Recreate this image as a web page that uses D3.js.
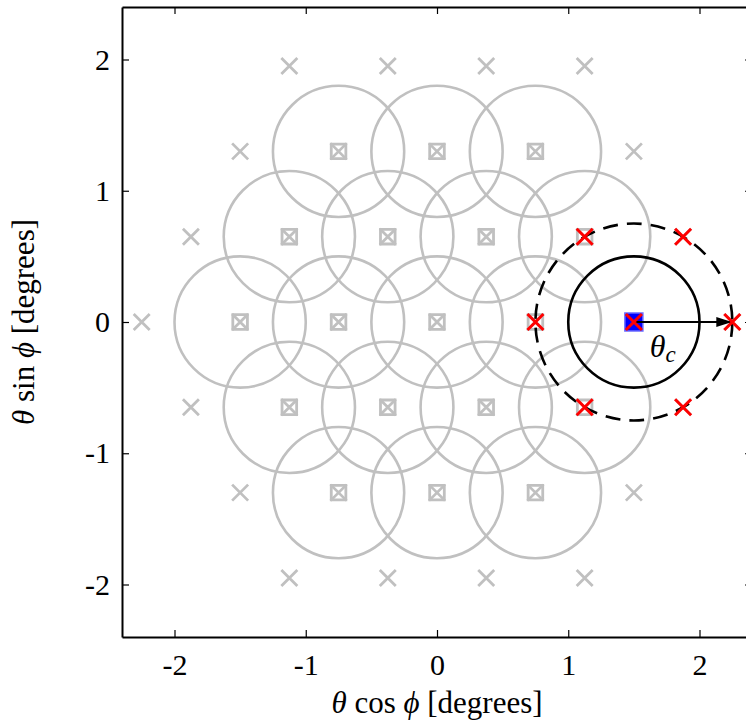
<!DOCTYPE html>
<html>
<head>
<meta charset="utf-8">
<script src="https://cdn.jsdelivr.net/npm/d3@7"></script>
<style>
  html, body { margin: 0; padding: 0; background: #fff; }
  svg { display: block; }
  svg text { font-family: "Liberation Serif", "Times New Roman", serif !important; }
</style>
</head>
<body>
<svg id="chart" width="746" height="722"></svg>
<script>
// Hexagonal sky grid: every candidate pointing (x markers)
const gridX = [
  -1.125, -0.375, 0.375, 1.125,
  -1.5, -0.75, 0, 0.75, 1.5,
  -1.875, -1.125, -0.375, 0.375, 1.125, 1.875,
  -2.25, -1.5, -0.75, 0, 0.75, 1.5, 2.25,
  -1.875, -1.125, -0.375, 0.375, 1.125, 1.875,
  -1.5, -0.75, 0, 0.75, 1.5,
  -1.125, -0.375, 0.375, 1.125
];
const gridY = [
  1.95, 1.95, 1.95, 1.95,
  1.3, 1.3, 1.3, 1.3, 1.3,
  0.65, 0.65, 0.65, 0.65, 0.65, 0.65,
  0, 0, 0, 0, 0, 0, 0,
  -0.65, -0.65, -0.65, -0.65, -0.65, -0.65,
  -1.3, -1.3, -1.3, -1.3, -1.3,
  -1.95, -1.95, -1.95, -1.95
];

// Beam centres (squares) and their footprints
const beamX = [
  -0.75, 0, 0.75,
  -1.125, -0.375, 0.375, 1.125,
  -1.5, -0.75, 0, 0.75, 1.5,
  -1.125, -0.375, 0.375, 1.125,
  -0.75, 0, 0.75
];
const beamY = [
  1.3, 1.3, 1.3,
  0.65, 0.65, 0.65, 0.65,
  0, 0, 0, 0, 0,
  -0.65, -0.65, -0.65, -0.65,
  -1.3, -1.3, -1.3
];
const beamRadius = 0.5;

// Selected beam and its neighbouring pointings
const selX = [1.5];
const selY = [0];
const neighX = [0.75, 1.125, 1.875, 2.25, 1.875, 1.125, 1.5];
const neighY = [0, 0.65, 0.65, 0, -0.65, -0.65, 0];
const searchRadius = 0.75;

// Axes
const xTicks = [-2, -1, 0, 1, 2];
const yTicks = [-2, -1, 0, 1, 2];
const xDomain = [-2.4, 2.4];
const yDomain = [-2.4, 2.4];

const margin = { left: 122, top: 7 };
const W = 630, H = 630;
const svg = d3.select("#chart");
const g = svg.append("g").attr("transform", `translate(${margin.left},${margin.top})`);

const x = d3.scaleLinear().domain(xDomain).range([0, W]);
const y = d3.scaleLinear().domain(yDomain).range([H, 0]);
const pxPerUnit = x(1) - x(0);

const GRAY = "#c0c0c0";
const SERIF = "'Liberation Serif', 'Times New Roman', serif";

function xPath(h) {
  return `M${-h},${-h}L${h},${h}M${-h},${h}L${h},${-h}`;
}
function sqPath(h) {
  return `M${-h},${-h}H${h}V${h}H${-h}Z`;
}

// Beam footprints
const beams = beamX.map((bx, i) => ({ x: bx, y: beamY[i] }));
g.append("g").selectAll("circle")
  .data(beams.filter(d => !(d.x === selX[0] && d.y === selY[0])))
  .join("circle")
  .attr("cx", d => x(d.x)).attr("cy", d => y(d.y))
  .attr("r", beamRadius * pxPerUnit)
  .attr("fill", "none").attr("stroke", GRAY).attr("stroke-width", 2.6);

// Grid pointings
const grid = gridX.map((gx, i) => ({ x: gx, y: gridY[i] }));
g.append("g").selectAll("path")
  .data(grid)
  .join("path")
  .attr("transform", d => `translate(${x(d.x)},${y(d.y)})`)
  .attr("d", xPath(8))
  .attr("fill", "none").attr("stroke", GRAY).attr("stroke-width", 2.8);

// Beam centre squares
g.append("g").selectAll("path")
  .data(beams)
  .join("path")
  .attr("transform", d => `translate(${x(d.x)},${y(d.y)})`)
  .attr("d", sqPath(7.3))
  .attr("fill", "none").attr("stroke", GRAY).attr("stroke-width", 2.8);

// Search radius (dashed) and selected beam footprint
g.append("circle")
  .attr("cx", x(selX[0])).attr("cy", y(selY[0]))
  .attr("r", searchRadius * pxPerUnit)
  .attr("fill", "none").attr("stroke", "#000").attr("stroke-width", 2.6)
  .attr("stroke-dasharray", "15,9");
g.append("circle")
  .attr("cx", x(selX[0])).attr("cy", y(selY[0]))
  .attr("r", beamRadius * pxPerUnit)
  .attr("fill", "none").attr("stroke", "#000").attr("stroke-width", 2.6);

// Selected beam square
g.append("path")
  .attr("transform", `translate(${x(selX[0])},${y(selY[0])})`)
  .attr("d", sqPath(9))
  .attr("fill", "#0000ff").attr("stroke", "#6a6aff").attr("stroke-width", 1.5);

// Arrow marking theta_c
const defs = svg.append("defs");
defs.append("marker")
  .attr("id", "arrowhead")
  .attr("viewBox", "0 0 16 10")
  .attr("refX", 16).attr("refY", 5)
  .attr("markerWidth", 16).attr("markerHeight", 10)
  .attr("markerUnits", "userSpaceOnUse")
  .attr("orient", "auto")
  .append("path").attr("d", "M0,0L16,5L0,10Z").attr("fill", "#000");
g.append("line")
  .attr("x1", x(selX[0])).attr("y1", y(selY[0]))
  .attr("x2", x(neighX[3])).attr("y2", y(neighY[3]))
  .attr("stroke", "#000").attr("stroke-width", 2.2)
  .attr("marker-end", "url(#arrowhead)");

// Neighbour pointings
g.append("g").selectAll("path")
  .data(neighX.map((nx, i) => ({ x: nx, y: neighY[i] })))
  .join("path")
  .attr("transform", d => `translate(${x(d.x)},${y(d.y)})`)
  .attr("d", xPath(8))
  .attr("fill", "none").attr("stroke", "#ff0000").attr("stroke-width", 3);

// theta_c label
const lbl = g.append("text")
  .attr("x", x(1.72)).attr("y", y(-0.27))
  .attr("text-anchor", "middle")
  .style("font-family", SERIF)
  .attr("font-size", 32);
lbl.append("tspan").attr("font-style", "italic").text("θ");
lbl.append("tspan").attr("font-style", "italic").attr("font-size", 23).attr("dy", 5).text("c");

// Axes with inward ticks
const xAxis = d3.axisBottom(x).tickValues(xTicks).tickSizeInner(-7).tickSizeOuter(0)
  .tickPadding(17).tickFormat(d3.format("d"));
const xAxisTop = d3.axisTop(x).tickValues(xTicks).tickSizeInner(-7).tickSizeOuter(0)
  .tickFormat("");
const yAxis = d3.axisLeft(y).tickValues(yTicks).tickSizeInner(-7).tickSizeOuter(0)
  .tickPadding(12).tickFormat(d3.format("d"));
const yAxisRight = d3.axisRight(y).tickValues(yTicks).tickSizeInner(-7).tickSizeOuter(0)
  .tickFormat("");

function styleAxis(sel) {
  sel.attr("font-family", null);
  sel.select(".domain").attr("stroke", "#000").attr("stroke-width", 2);
  sel.selectAll(".tick line").attr("stroke", "#000").attr("stroke-width", 1.2);
  sel.selectAll(".tick text")
    .style("font-family", SERIF)
    .attr("font-size", 30).attr("fill", "#000");
}
g.append("g").attr("transform", `translate(0,${H})`).call(xAxis).call(styleAxis)
  .selectAll(".tick text").text(d => d < 0 ? "-" + Math.abs(d) : d);
g.append("g").call(xAxisTop).call(styleAxis);
g.append("g").call(yAxis).call(styleAxis)
  .selectAll(".tick text").text(d => d < 0 ? "-" + Math.abs(d) : d);
g.append("g").attr("transform", `translate(${W},0)`).call(yAxisRight).call(styleAxis);

// Axis titles
const xt = svg.append("text")
  .attr("x", margin.left + x(0)).attr("y", 713)
  .attr("text-anchor", "middle").attr("font-size", 31)
  .style("font-family", SERIF);
xt.append("tspan").attr("font-style", "italic").text("θ");
xt.append("tspan").text(" cos ");
xt.append("tspan").attr("font-style", "italic").text("ϕ");
xt.append("tspan").text(" [degrees]");

const yt = svg.append("text")
  .attr("transform", `translate(34,${margin.top + y(0)}) rotate(-90)`)
  .attr("text-anchor", "middle").attr("font-size", 31)
  .style("font-family", SERIF);
yt.append("tspan").attr("font-style", "italic").text("θ");
yt.append("tspan").text(" sin ");
yt.append("tspan").attr("font-style", "italic").text("ϕ");
yt.append("tspan").text(" [degrees]");
</script>
</body>
</html>
